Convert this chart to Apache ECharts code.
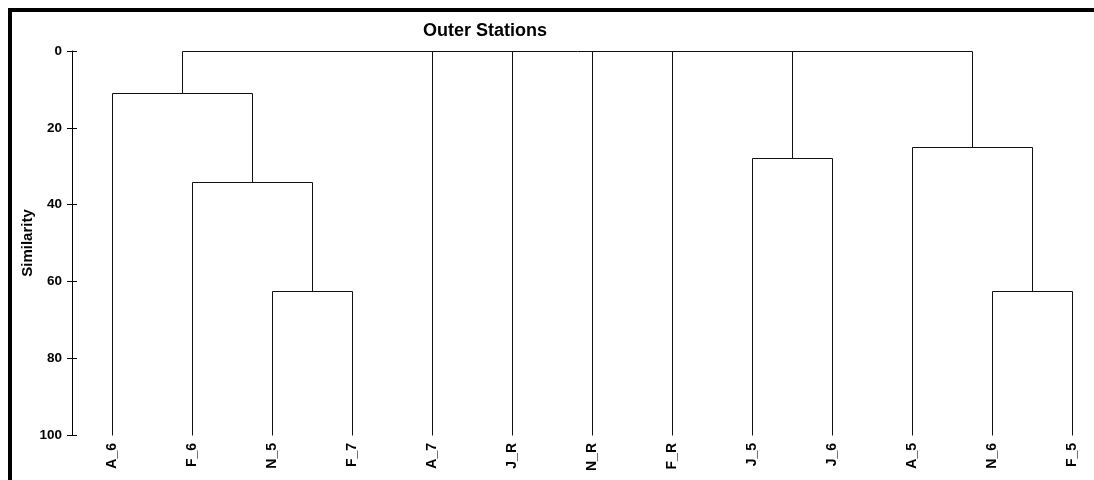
<!DOCTYPE html>
<html>
<head>
<meta charset="utf-8">
<script src="https://cdn.jsdelivr.net/npm/echarts@6/dist/echarts.min.js"></script>
<style>
  html, body { margin: 0; padding: 0; background: #fff; }
  #chart { width: 1094px; height: 480px; }
</style>
</head>
<body>
<div id="chart"></div>
<script>
// Station samples, left to right along the dendrogram
const leafNames = ['A_6', 'F_6', 'N_5', 'F_7', 'A_7', 'J_R', 'N_R', 'F_R', 'J_5', 'J_6', 'A_5', 'N_6', 'F_5'];

// Cluster joins: node ids below leafNames.length are leaves,
// id leafNames.length + k is the k-th join listed here.
const mergeChildren = [
  [2, 3],                   // N_5 + F_7
  [1, 13],                  // F_6 + (N_5, F_7)
  [0, 14],                  // A_6 + ...
  [8, 9],                   // J_5 + J_6
  [11, 12],                 // N_6 + F_5
  [10, 17],                 // A_5 + (N_6, F_5)
  [15, 4, 5, 6, 7, 16, 18]  // all groups at similarity 0
];
const mergeSimilarity = [62.5, 34, 11, 27.8, 62.5, 25, 0];

const yTicks = [0, 20, 40, 60, 80, 100];
const leafSimilarity = 100;

const nLeaves = leafNames.length;
const chart = echarts.init(document.getElementById('chart'), null, { renderer: 'canvas' });

function renderJoin(params, api) {
  const k = params.dataIndex;
  const crisp = v => Math.round(v) + 0.5;
  function nodeX(n) {
    if (n < nLeaves) return api.coord([n, leafSimilarity])[0];
    const ch = mergeChildren[n - nLeaves];
    return (nodeX(ch[0]) + nodeX(ch[ch.length - 1])) / 2;
  }
  function nodeY(n) {
    const s = n < nLeaves ? leafSimilarity : mergeSimilarity[n - nLeaves];
    return api.coord([0, s])[1];
  }
  const ch = mergeChildren[k];
  const yJoin = crisp(api.coord([0, mergeSimilarity[k]])[1]);
  const style = { stroke: '#111', lineWidth: 1, fill: null };
  const children = [];
  const xFirst = crisp(nodeX(ch[0]));
  const xLast = crisp(nodeX(ch[ch.length - 1]));
  children.push({ type: 'line', shape: { x1: xFirst, y1: yJoin, x2: xLast, y2: yJoin }, style });
  ch.forEach(c => {
    const x = crisp(nodeX(c));
    children.push({ type: 'line', shape: { x1: x, y1: yJoin, x2: x, y2: crisp(nodeY(c)) }, style });
  });
  return { type: 'group', children };
}

const labelFont = { color: '#000', fontFamily: 'Liberation Sans, Arial, sans-serif', fontWeight: 'bold' };

chart.setOption({
  animation: false,
  backgroundColor: '#fff',
  title: {
    text: 'Outer Stations',
    left: 423,
    top: 22,
    padding: 0,
    textStyle: Object.assign({}, labelFont, { fontSize: 18 })
  },
  graphic: [{
    type: 'rect',
    shape: { x: 10, y: 10, width: 1200, height: 600 },
    style: { fill: null, stroke: '#000', lineWidth: 4 },
    silent: true
  }],
  grid: { left: 72, top: 51, width: 1040, height: 384, containLabel: false, outerBoundsMode: 'none' },
  xAxis: {
    type: 'category',
    data: leafNames,
    boundaryGap: true,
    axisLine: { show: false },
    axisTick: { show: false },
    splitLine: { show: false },
    axisLabel: Object.assign({}, labelFont, { fontSize: 14, rotate: 90, margin: 8, interval: 0 })
  },
  yAxis: [{
    type: 'value',
    inverse: true,
    min: yTicks[0],
    max: yTicks[yTicks.length - 1],
    interval: 20,
    name: 'Similarity',
    nameLocation: 'middle',
    nameRotate: 90,
    nameGap: 37,
    nameMoveOverlap: false,
    nameTextStyle: Object.assign({}, labelFont, { fontSize: 15 }),
    axisLine: { show: true, lineStyle: { color: '#000', width: 1 } },
    axisTick: { show: true, length: 5, lineStyle: { color: '#000', width: 1 } },
    splitLine: { show: false },
    axisLabel: Object.assign({}, labelFont, { fontSize: 13.5, margin: 10 })
  }, {
    type: 'value',
    position: 'left',
    offset: 0,
    inverse: true,
    min: yTicks[0],
    max: yTicks[yTicks.length - 1],
    interval: 20,
    axisLine: { show: false },
    axisTick: { show: true, inside: true, length: 5, lineStyle: { color: '#000', width: 1 } },
    axisLabel: { show: false },
    splitLine: { show: false }
  }],
  series: [{
    type: 'custom',
    clip: false,
    silent: true,
    renderItem: renderJoin,
    data: mergeSimilarity.map((s, k) => [0, s])
  }]
});
</script>
</body>
</html>
